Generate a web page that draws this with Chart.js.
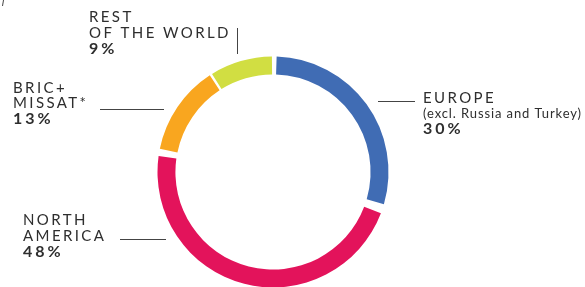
<!DOCTYPE html>
<html>
<head>
    <title>Sales by Region</title>
    <script src="https://cdn.jsdelivr.net/npm/chart.js"></script>
    <style>
        body {
            margin: 0;
            background: #fff;
        }
        .wrap {
            position: relative;
            width: 585px;
            height: 287px;
        }
    </style>
</head>
<body>
    <div class="wrap">
        <canvas id="regionChart" width="585" height="287"></canvas>
    </div>

    <script>
        // data
        const regions = ['EUROPE', 'NORTH AMERICA', 'BRIC+ MISSAT*', 'REST OF THE WORLD'];
        const shares = [30, 48, 13, 9];
        const sliceColors = ['#406cb4', '#e3135b', '#f9a61f', '#d1de42'];

        // label text, one line per entry
        const labelLines = [
            ['EUROPE', '(excl. Russia and Turkey)'],
            ['NORTH', 'AMERICA'],
            ['BRIC+', 'MISSAT*'],
            ['REST', 'OF THE WORLD']
        ];

        const FONT = 'Lato, "DejaVu Sans", sans-serif';

        // text + leader lines, drawn by hand
        const calloutPlugin = {
            id: 'callouts',
            afterDraw(chart) {
                const ctx = chart.ctx;
                ctx.save();
                ctx.fillStyle = '#2e2e2e';
                ctx.textBaseline = 'alphabetic';
                ctx.textAlign = 'left';

                function caps(text, x, y) {
                    ctx.font = '15px ' + FONT;
                    ctx.letterSpacing = '2.4px';
                    ctx.fillText(text, x, y);
                }
                function small(text, x, y) {
                    ctx.font = '13px ' + FONT;
                    ctx.letterSpacing = '0.9px';
                    ctx.fillText(text, x, y);
                }
                function pct(value, x, y) {
                    ctx.font = 'bold 16px ' + FONT;
                    ctx.letterSpacing = '3px';
                    ctx.fillText(value + '%', x, y);
                }

                // rest of the world
                caps(labelLines[3][0], 89, 22);
                caps(labelLines[3][1], 89, 38);
                pct(shares[3], 89, 54);

                // bric
                caps(labelLines[2][0], 13, 93);
                caps(labelLines[2][1], 13, 108);
                pct(shares[2], 13, 124);

                // europe
                caps(labelLines[0][0], 423, 103);
                small(labelLines[0][1], 423, 118);
                pct(shares[0], 423, 134);

                // north america
                caps(labelLines[1][0], 23, 225);
                caps(labelLines[1][1], 23, 241);
                pct(shares[1], 23, 257);

                ctx.strokeStyle = '#444';
                ctx.lineWidth = 1;
                ctx.beginPath();
                ctx.moveTo(237.5, 28); ctx.lineTo(237.5, 54);
                ctx.moveTo(100, 109.5); ctx.lineTo(164, 109.5);
                ctx.moveTo(378, 101.5); ctx.lineTo(415, 101.5);
                ctx.moveTo(120, 239.5); ctx.lineTo(166, 239.5);
                // stray mark in the top-left corner
                ctx.moveTo(3.5, 0); ctx.lineTo(2.5, 6);
                ctx.stroke();

                ctx.restore();
            }
        };

        new Chart(document.getElementById('regionChart'), {
            type: 'doughnut',
            data: {
                labels: regions,
                datasets: [{
                    data: shares,
                    backgroundColor: sliceColors,
                    borderWidth: 0,
                    spacing: 7,
                    radius: 112,
                    cutout: '84%'
                }]
            },
            options: {
                responsive: false,
                animation: false,
                layout: {
                    padding: { left: 157, right: 196, top: 114, bottom: 57 }
                },
                plugins: {
                    legend: { display: false },
                    tooltip: { enabled: false }
                }
            },
            plugins: [calloutPlugin]
        });
    </script>
</body>
</html>
